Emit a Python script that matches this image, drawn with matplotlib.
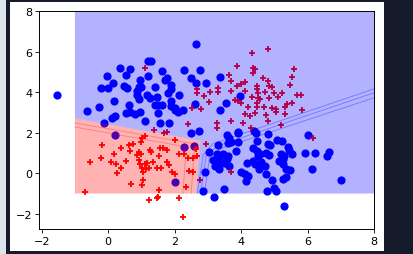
import numpy as np
import matplotlib
matplotlib.use("Agg")
import matplotlib.pyplot as plt
from matplotlib.patches import Rectangle

# class 1 (blue circles)
blue_x = [2.64, -1.53, 1.2, 1.3, 0.35, 0.67, 1.61, 2.27, 2.76, -0.02, 0.55, 1.19, 0.96,
          1.78, 1.7, 2.49, 2.63, -0.2, 0.0, 0.16, 0.47, 0.57, 0.93, 1.0, 0.88, 1.4,
          1.9, 1.88, 0.86, 0.92, 1.16, 1.26, 1.48, 1.79, 2.14, 1.88, 0.17, 0.64,
          1.4, 1.5, 1.62, 1.9, 2.0, 2.6, -0.26, -0.65, 0.54, 0.66, 0.8, 0.96, 1.5,
          2.01, 2.11, 2.24, 0.11, 0.21, -0.11, 1.1, 1.56, 1.84, 3.36, 2.96, 3.97,
          3.56, 3.38, 2.5, 2.72, 0.2, 2.28, 2.58, 2.0, 3.57, 3.65, 3.9, 3.91, 4.4,
          4.46, 4.8, 6.0, 5.08, 5.24, 4.47, 3.31, 3.61, 3.71, 3.91, 4.8, 4.88, 5.4,
          5.44, 5.54, 3.03, 3.27, 3.37, 3.45, 3.61, 3.57, 3.85, 4.37, 4.47, 4.57,
          4.5, 4.75, 4.84, 5.2, 5.3, 5.26, 5.92, 6.22, 6.66, 6.58, 3.17, 3.29, 3.37,
          3.49, 3.65, 3.23, 3.33, 4.19, 4.37, 4.43, 4.61, 4.71, 4.54, 5.14, 5.26,
          5.34, 5.48, 6.14, 2.91, 4.01, 4.11, 4.22, 4.15, 4.75, 4.93, 5.26, 5.36,
          7.0, 2.85, 3.19, 3.49, 4.78, 4.98, 5.06, 5.3]
blue_y = [6.37, 3.86, 5.55, 5.55, 5.2, 5.15, 5.05, 5.1, 5.1, 4.78, 4.83, 4.78, 4.62,
          4.7, 4.6, 4.7, 4.44, 4.2, 4.2, 4.44, 4.3, 4.2, 4.27, 4.24, 4.04, 4.27,
          4.35, 4.14, 3.85, 3.68, 3.88, 3.71, 3.75, 3.95, 3.85, 3.58, 3.57, 3.37,
          3.37, 3.35, 3.37, 3.3, 3.22, 3.42, 3.29, 3.07, 2.96, 3.04, 2.93, 3.02, 2.99,
          3.12, 3.0, 3.12, 2.73, 2.83, 2.5, 2.6, 2.5, 2.5, 4.76, 4.45, 3.83,
          3.47, 3.12, 1.99, 2.07, 1.89, 1.3, 1.33, -0.44, 1.89, 1.76, 2.05, 1.96, 2.09,
          1.96, 1.93, 1.89, 1.66, 1.6, 1.6, 1.37, 1.5, 1.56, 1.53, 1.46, 1.37, 1.27,
          1.17, 0.97, 1.07, 0.94, 0.87, 0.97, 0.87, 0.71, 1.1, 1.24, 1.1, 0.97,
          0.84, 1.0, 0.9, 0.97, 0.84, 0.71, 1.0, 1.0, 1.07, 0.84, 0.64, 0.58, 0.48,
          0.51, 0.38, 0.38, 0.22, 0.48, 0.61, 0.45, 0.55, 0.38, 0.22, 0.58, 0.45,
          0.22, 0.15, 0.22, 0.05, 0.05, -0.04, -0.14, -0.37, -0.04, -0.31, -0.28, -0.21,
          -0.34, -0.87, -1.16, -0.8, -0.9, -0.73, -0.9, -1.62]

# class 0 (red plus)
red_x = [1.11, 2.68, 2.66, 2.52, 2.4, 4.81, 4.33, 3.89, 4.35, 4.43, 4.37, 5.58, 3.65,
         4.66, 4.82, 5.52, 3.69, 3.89, 4.01, 4.11, 4.47, 4.47, 4.84, 4.94, 5.46,
         3.07, 3.31, 3.31, 3.69, 4.13, 4.51, 4.71, 4.99, 5.23, 5.68, 5.8, 2.87,
         4.33, 4.51, 4.57, 4.84, 5.1, 3.81, 3.91, 4.01, 3.03, 2.79, 4.22, 4.47, 4.49,
         4.7, 4.92, 5.06, 5.32, 5.38, 5.52, 5.82, 4.11, 4.26, 4.42, 4.74, 5.32, 5.06,
         3.71, 3.27, 4.05, 4.8, 3.27, 5.2, 2.93, 4.29, 6.16, 3.69, 2.77, 2.67,
         1.38, 1.68, 1.76, 2.0, -0.19, -0.56, -0.21, 0.17, 0.39, 0.64, 0.74, 1.02,
         0.98, 1.1, 0.66, 0.86, 0.92, 1.0, 1.26, 1.28, 1.56, 1.64, 1.76, 2.14, 2.28,
         1.54, 2.4, 2.56, 0.09, 0.23, 0.39, 0.53, 0.26, 0.92, 0.96, 1.12, 1.18, 1.02,
         1.14, 1.24, 1.06, 1.34, 1.46, 1.58, 1.76, 1.84, 1.92, 2.02, 2.42, 2.54,
         1.04, 1.02, 0.7, 2.34, 1.54, -0.71, 1.5, 1.46, 1.22, 2.12, 2.24, 2.63]
red_y = [5.2, 4.14, 3.95, 3.22, 2.45, 6.11, 5.95, 5.31, 5.19, 5.13, 4.93, 5.13, 4.86,
         4.7, 4.57, 4.76, 4.57, 4.3, 4.4, 4.5, 4.3, 4.17, 4.3, 4.24, 4.37,
         4.0, 4.19, 4.02, 4.07, 4.04, 3.98, 4.01, 3.95, 3.98, 3.88, 3.88, 3.83,
         3.75, 3.71, 3.65, 3.71, 3.75, 3.62, 3.55, 3.48, 3.52, 3.19, 3.29, 3.45, 3.29,
         3.29, 3.22, 3.19, 3.29, 3.42, 3.48, 3.12, 2.93, 2.83, 2.96, 2.89, 2.93, 3.03,
         2.6, 2.5, 2.5, 2.57, 2.25, 2.38, 1.42, 2.22, 1.76, 0.05, -0.31, 0.87,
         2.15, 1.96, 2.02, 1.66, 1.37, 0.55, 0.77, 0.94, 1.24, 1.37, 1.46, 1.76,
         1.53, 1.83, 1.1, 0.9, 1.04, 0.97, 1.17, 1.04, 1.24, 1.24, 1.14, 0.97, 0.94,
         0.87, 0.77, 0.74, 0.55, 0.45, 0.25, 0.58, 0.02, 0.64, 0.45, 0.45, 0.51, 0.25,
         0.22, 0.28, 0.08, 0.55, 0.28, 0.28, 0.55, 0.41, 0.08, -0.02, 0.12, 0.08,
         -0.34, -0.6, -0.54, -0.67, -0.83, -0.93, -1.16, -1.23, -1.33, -1.2, -2.18, 1.2]

# decision regions
red_region_x = [-1, -1, 2.78, 2.64]
red_region_y = [-1, 2.7, 1.6, -1]
blue_region_x = [-1, -1, 8, 8, 2.64, 2.78]
blue_region_y = [2.7, 8, 8, -1, -1, 1.6]

# level seams inside the regions
blue_seams = [([2.68, 2.86, 3.15, 8], [-1, 0.9, 1.45, 4.16]),
              ([2.78, 2.95, 3.3, 8], [-1, 0.85, 1.35, 3.97]),
              ([2.9, 3.05, 3.45, 8], [-1, 0.8, 1.25, 3.72])]
red_seams = [([-1, 2.6, 2.5], [2.48, 1.45, -1]),
             ([-1, 2.35, 2.25], [2.28, 1.3, -1])]

fig = plt.figure(figsize=(4.14, 2.55), dpi=100, facecolor='#151b2a')
# white figure area of the screenshot and the light strip on the left
fig.patches.append(Rectangle((10/414, 3/255), 374/414, 249/255, transform=fig.transFigure,
                             facecolor='white', edgecolor='none', zorder=-10))
fig.patches.append(Rectangle((0, 0), 6/414, 1, transform=fig.transFigure,
                             facecolor='#dde3ea', edgecolor='none', zorder=-10))

ax = fig.add_axes([39/414, 25/255, 335/414, 218/255])
ax.set_zorder(5)

ax.scatter(blue_x, blue_y, s=24, c='blue', marker='o', zorder=1)
ax.scatter(red_x, red_y, s=20, c='red', marker='+', linewidths=1.3, zorder=1)

ax.fill(red_region_x, red_region_y, color='red', alpha=0.3, lw=0, zorder=2)
ax.fill(blue_region_x, blue_region_y, color='blue', alpha=0.3, lw=0, zorder=2)
for sx, sy in blue_seams:
    ax.plot(sx, sy, color='blue', alpha=0.35, lw=0.6, zorder=3)
for sx, sy in red_seams:
    ax.plot(sx, sy, color='red', alpha=0.3, lw=0.6, zorder=3)

ax.set_xlim(-2.08, 8)
ax.set_ylim(-2.75, 8)
ax.set_xticks([-2, 0, 2, 4, 6, 8])
ax.set_yticks([-2, 0, 2, 4, 6, 8])
ax.tick_params(labelsize=8, length=2.8, width=0.6, pad=2)
for sp in ax.spines.values():
    sp.set_linewidth(0.7)

fig.savefig('out.png', dpi=100, facecolor=fig.get_facecolor())
